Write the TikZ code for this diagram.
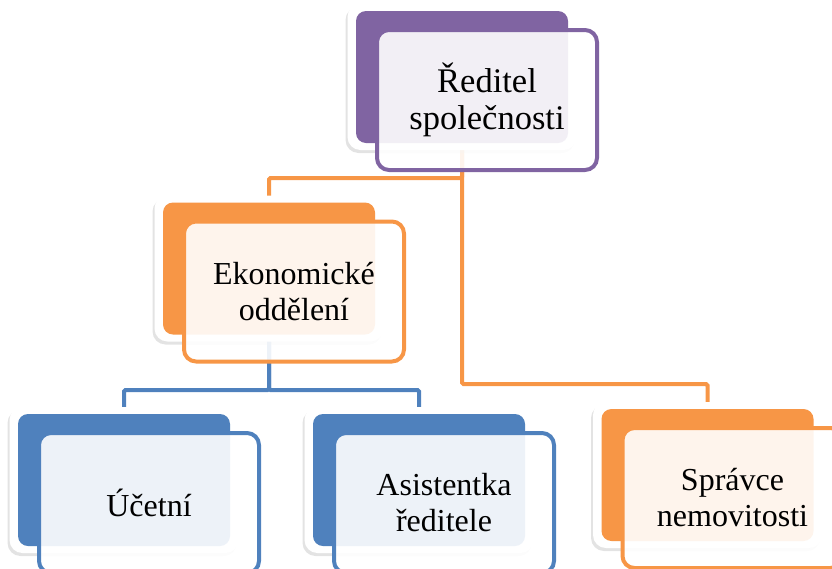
\documentclass[tikz,border=0pt]{standalone}
\usepackage{fontspec}
\setmainfont{Liberation Serif}
\usetikzlibrary{calc,positioning,shadows,backgrounds}
\definecolor{Plum}{HTML}{8064A2}
\definecolor{Tangerine}{HTML}{F79646}
\definecolor{Steel}{HTML}{4F81BD}

\tikzset{
  halo/.style={fill=white,rounded corners=13pt,inner sep=0pt,
    minimum width=229pt,minimum height=146pt,
    drop shadow={shadow xshift=-2pt,shadow yshift=-3pt,opacity=.22}},
  back/.style={rounded corners=10pt,inner sep=0pt,
    minimum width=212pt,minimum height=132pt},
  front/.style={line width=4pt,fill=white,fill opacity=.9,text opacity=1,
    rounded corners=12pt,inner sep=0pt,align=center,
    minimum width=220pt,minimum height=140pt,
    font=\fontsize{32}{36}\selectfont},
  link/.style={line width=4pt,rounded corners=1.5pt}
}

% one box of the chart: [extra], name, position, colour, text
\newcommand{\orgunit}[5][]{%
  \node[halo] at (#3) {};
  \node[back,fill=#4] (#2) at (#3) {};
  \node[front,draw=#4,#1] (#2-t) at ($(#2)+(25,23)$) {#5};
}

\begin{document}
\begin{tikzpicture}[x=1pt,y=-1pt]
  \useasboundingbox (0,0) rectangle (832,568);

  \orgunit[font=\fontsize{34.5}{37}\selectfont]{ceo}{462,77}{Plum}{Ředitel\\společnosti}
  \orgunit{econ}{269,268.5}{Tangerine}{Ekonomické\\oddělení}
  \orgunit{acct}{124,480}{Steel}{Účetní}
  \orgunit{asst}{419,480}{Steel}{Asistentka\\ředitele}
  \orgunit{prop}{707.5,475}{Tangerine}{Správce\\nemovitosti}

  % connectors under the boxes
  \begin{scope}[on background layer]
    \draw[link,Tangerine] (ceo.center) -- ++(0,101) -| (econ.north);
    \draw[link,Tangerine] (ceo.center) -- ++(0,307) -| (prop.north);
    \draw[link,Steel] (econ.center) -- ++(0,121.5) -| (acct.north);
    \draw[link,Steel] (econ.center) -- ++(0,121.5) -| (asst.north);
  \end{scope}
\end{tikzpicture}
\end{document}
